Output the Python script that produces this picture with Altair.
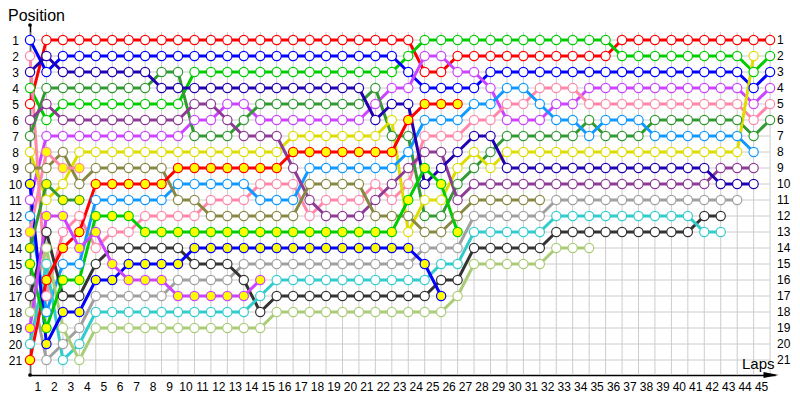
import altair as alt
import pandas as pd

# ---- data: position at each lap (index 0 = starting grid) ----
pos_red = [5,1,1,1,1,1,1,1,1,1,1,1,1,1,1,1,1,1,1,1,1,1,1,1,3,3,2,2,2,2,2,2,2,2,2,2,1,1,1,1,1,1,1,1,1,1]
pos_green = [4,6,5,5,5,5,5,5,5,5,3,3,3,3,3,3,3,3,3,3,3,3,3,2,1,1,1,1,1,1,1,1,1,1,1,1,2,2,2,2,2,2,2,2,3,2]
pos_blue = [1,3,2,2,2,2,2,2,2,2,2,2,2,2,2,2,2,2,2,2,2,2,2,3,4,4,4,4,3,3,3,3,3,3,3,3,3,3,3,3,3,3,3,3,4,3]
pos_magenta = [11,7,7,7,7,7,7,7,7,7,6,6,5,5,6,6,6,6,6,6,6,5,4,4,2,2,3,3,4,6,6,6,5,5,4,4,4,4,4,4,4,4,4,4,5,4]
pos_pink = [2,17,13,12,14,13,13,12,12,12,12,11,11,11,10,10,10,12,11,11,11,10,11,10,7,7,7,6,6,5,5,4,4,4,5,5,5,5,5,5,5,5,5,5,6,5]
pos_darkgreen = [7,4,4,4,4,4,4,4,3,3,7,7,7,6,5,5,5,5,5,5,5,4,7,7,12,12,10,9,8,7,7,7,7,7,6,7,7,7,6,6,6,6,6,6,7,6]
pos_yellow = [8,11,10,8,8,8,8,8,8,8,8,8,8,8,8,8,7,7,7,7,7,7,6,13,11,11,9,8,9,8,8,8,8,8,8,8,8,8,8,8,8,8,8,8,2]
pos_lightblue = [12,18,15,15,11,11,11,11,11,10,10,10,10,10,11,11,11,9,9,9,9,9,9,8,6,6,6,5,5,4,4,5,6,6,7,6,6,6,7,7,7,7,7,7,8]
pos_purple = [6,5,6,6,6,6,6,6,6,6,5,5,6,7,7,7,9,11,12,12,12,11,10,9,8,8,11,10,10,10,10,10,10,10,10,10,10,10,10,10,10,10,9,9,9]
pos_darkblue = [3,2,3,3,3,3,3,3,4,4,4,4,4,4,4,4,4,4,4,4,4,6,5,5,10,9,8,7,7,9,9,9,9,9,9,9,9,9,9,9,9,9,10,10,10]
pos_gray = [16,21,20,19,17,17,17,17,17,16,16,16,16,15,15,15,15,15,15,15,15,15,15,15,14,14,14,12,12,12,12,12,11,11,11,11,11,11,11,11,11,11,11,11]
pos_black = [17,13,17,17,15,14,14,14,14,14,15,15,15,16,18,17,17,17,17,17,17,17,17,17,17,16,16,14,14,14,14,14,13,13,13,13,13,13,13,13,13,12,12]
pos_cyan = [20,15,21,20,18,18,18,18,18,18,18,18,18,18,17,16,16,16,16,16,16,16,16,16,16,15,15,13,13,13,13,13,12,12,12,12,12,12,12,12,12,13,13]
pos_lightolive = [18,14,19,21,19,19,19,19,19,19,19,19,19,19,19,18,18,18,18,18,18,18,18,18,18,18,17,15,15,15,15,15,14,14,14]
pos_olive = [9,9,8,10,9,9,9,9,9,11,11,12,12,12,12,12,12,10,10,10,10,12,12,12,13,13,12,11,11,11,11,11]
pos_red_y = [21,16,14,13,10,10,10,10,10,9,9,9,9,9,9,9,8,8,8,8,8,8,8,6,5,5,5]
pos_blue_y = [10,20,18,18,16,16,15,15,15,15,14,14,14,14,14,14,14,14,14,14,14,14,14,14,15,17]
pos_green_y = [15,19,16,16,12,12,12,13,13,13,13,13,13,13,13,13,13,13,13,13,13,13,13,11,9,10,13]
pos_magenta_y = [19,12,12,14,13,15,16,16,16,17,17,17,17,17,16]
pos_pink_y = [13,8,9,9]
pos_darkgreen_y = [14,10,11,11]

drivers = ["red", "green", "blue", "magenta", "pink", "darkgreen", "yellow",
           "lightblue", "purple", "darkblue", "gray", "black", "cyan",
           "lightolive", "olive", "red_y", "blue_y", "green_y", "magenta_y",
           "pink_y", "darkgreen_y"]
line_colors = ["#ff0000", "#00cc00", "#0000ff", "#cc44ff", "#ff88aa", "#339933",
               "#dddd00", "#1199ff", "#8e3a96", "#2200b0", "#a0a0a0", "#333333",
               "#33cccc", "#aacc77", "#888844", "#ff0000", "#0000ff", "#00cc00",
               "#cc44ff", "#ff88aa", "#339933"]
marker_fills = ["#ffffff"] * 15 + ["#ffff00"] * 6
positions = [pos_red, pos_green, pos_blue, pos_magenta, pos_pink, pos_darkgreen,
             pos_yellow, pos_lightblue, pos_purple, pos_darkblue, pos_gray,
             pos_black, pos_cyan, pos_lightolive, pos_olive, pos_red_y,
             pos_blue_y, pos_green_y, pos_magenta_y, pos_pink_y, pos_darkgreen_y]

lap_ticks = list(range(1, 46))
pos_ticks = list(range(1, 22))

rows = []
for name, col, fill, plist in zip(drivers, line_colors, marker_fills, positions):
    for lap, p in enumerate(plist):
        rows.append({"driver": name, "lap": lap, "pos": p, "col": col, "fill": fill})
df = pd.DataFrame(rows)

FONT = "Liberation Sans"
xs = alt.Scale(domain=[0, 45.3], nice=False, zero=False)
ys = alt.Scale(domain=[0.0625, 21.9375], nice=False, zero=False, reverse=True)
xaxis = alt.Axis(values=lap_ticks, grid=False, ticks=False, domainColor="#000000",
                 domainWidth=1.5, labelOffset=-9, labelPadding=6, labelFont=FONT,
                 labelFontSize=12, labelColor="#000000", title=None, labelFlush=False,
                 labelOverlap=False)
yaxis = alt.Axis(values=pos_ticks, grid=False, ticks=False, domainColor="#000000",
                 domainWidth=1.5, labelAlign="center", labelPadding=15, labelFont=FONT,
                 labelFontSize=12, labelColor="#000000", title=None, labelOverlap=False)


def X(field):
    return alt.X(field, scale=xs, axis=xaxis)


def Y(field):
    return alt.Y(field, scale=ys, axis=yaxis)


vgrid = pd.DataFrame({"lap": list(range(0, 46)), "y0": 0.5, "y1": 21.9375})
hgrid = pd.DataFrame({"pos": pos_ticks, "x0": 0, "x1": 45})

vrules = alt.Chart(vgrid).mark_rule(color="#cccccc", strokeWidth=1).encode(
    x=X("lap:Q"), y=Y("y0:Q"), y2="y1:Q")
hrules = alt.Chart(hgrid).mark_rule(color="#cccccc", strokeWidth=1).encode(
    y=Y("pos:Q"), x=X("x0:Q"), x2="x1:Q")

lines = alt.Chart(df).mark_line(strokeWidth=3).encode(
    x=X("lap:Q"), y=Y("pos:Q"),
    color=alt.Color("col:N", scale=None),
    detail="driver:N",
    order=alt.Order("lap:Q"))

points = alt.Chart(df).mark_point(shape="circle", size=85, filled=True,
                                  strokeWidth=1.2, opacity=1).encode(
    x=X("lap:Q"), y=Y("pos:Q"),
    fill=alt.Fill("fill:N", scale=None),
    stroke=alt.Stroke("col:N", scale=None))

right_labels = alt.Chart(pd.DataFrame({"pos": pos_ticks})).mark_text(
    align="left", baseline="middle", font=FONT, fontSize=12, color="#000000").encode(
    y=Y("pos:Q"), x=alt.value(747), text="pos:Q")

title_pos = alt.Chart(pd.DataFrame({"t": ["Position"]})).mark_text(
    align="left", baseline="alphabetic", font=FONT, fontSize=16, color="#000000").encode(
    x=alt.value(-22), y=alt.value(-4), text="t:N")

title_laps = alt.Chart(pd.DataFrame({"t": ["Laps"]})).mark_text(
    align="left", baseline="alphabetic", font=FONT, fontSize=15, color="#000000").encode(
    x=alt.value(712), y=alt.value(344), text="t:N")

arrow = alt.Chart(pd.DataFrame({"a": [1]})).mark_point(
    shape="M-1,-0.4L1,0L-1,0.4Z", size=225, filled=True, color="#000000", opacity=1).encode(
    x=alt.value(741), y=alt.value(350))

dots = alt.Chart(pd.DataFrame({"px": [0, 0], "py": [0, 350]})).mark_point(
    shape="circle", size=14, filled=True, color="#000000", opacity=1).encode(
    x=alt.X("px:Q", scale=None, axis=None), y=alt.Y("py:Q", scale=None, axis=None))

chart = alt.layer(vrules, hrules, lines, points, right_labels, title_pos,
                  title_laps, arrow, dots).properties(
    width=745, height=350,
    padding={"left": 22, "top": 17, "right": 17, "bottom": 17},
    autosize=alt.AutoSizeParams(type="none"),
    background="#ffffff",
).configure_view(stroke=None)

chart.save("out.html", embed_options={"renderer": "svg", "actions": False})
